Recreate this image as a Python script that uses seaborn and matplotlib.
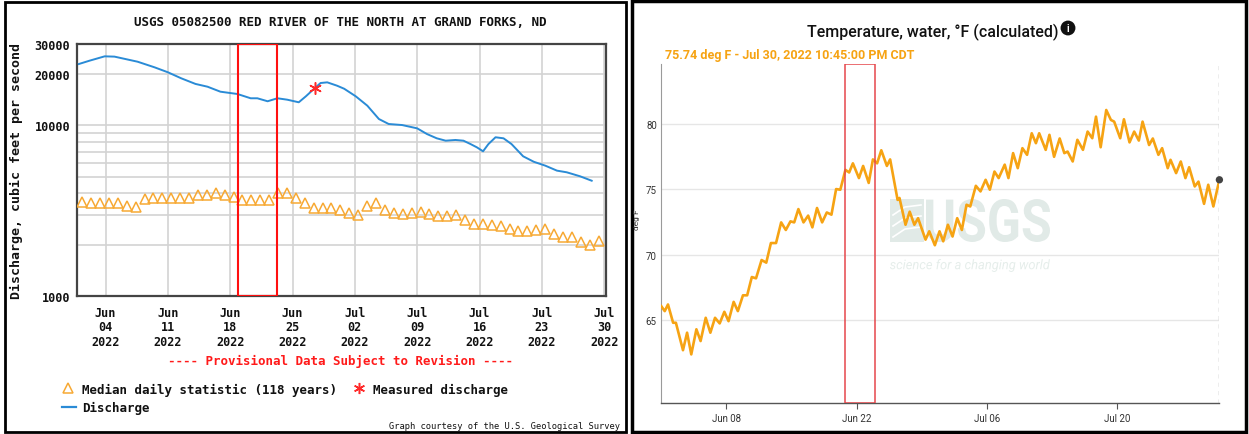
import numpy as np
import pandas as pd
import matplotlib
matplotlib.use("Agg")
import matplotlib.pyplot as plt
from matplotlib.patches import Rectangle, PathPatch
from matplotlib.lines import Line2D
from matplotlib.textpath import TextPath
from matplotlib.font_manager import FontProperties
from matplotlib.transforms import Affine2D
from matplotlib.ticker import NullLocator, FixedLocator, FixedFormatter
import seaborn as sns

# ---------------- data ----------------
# Discharge (cfs), days since 2022-06-01 00:00
q_day = [0.0, 1.2, 2.9, 4.0, 6.6, 8.5, 10.0, 11.5, 13.1, 14.45, 15.9, 17.8, 19.3, 20.05,
         21.2, 22.3, 23.4, 24.7, 25.5, 26.5, 27.15, 27.9, 29.0, 29.8, 31.1, 32.4,
         33.7, 34.8, 36.3, 38.0, 39.1, 40.2, 41.2, 42.3, 43.2, 44.0, 44.7, 45.4, 46.0,
         46.8, 47.7, 48.6, 49.9, 51.1, 52.4, 53.7, 54.8, 56.3, 57.6]
q_cfs = [22900, 23950, 25400, 25300, 23620, 21900, 20480, 18880, 17500, 16860, 15760,
         15280, 14420, 14420, 13850, 14420, 14150, 13660, 14810, 16540, 17720, 17880,
         17090, 16400, 14810, 13050, 10900, 10190, 10050, 9610, 8900, 8400, 8135,
         8215, 8135, 7770, 7440, 7050, 7770, 8520, 8400, 7770, 6590, 6120, 5805, 5430,
         5310, 5030, 4740]

# Median daily statistic (118 years), Jun 01 .. Jul 29
median_cfs = [3570, 3490, 3490, 3490, 3490, 3380, 3310, 3700, 3740, 3750,
              3750, 3750, 3750, 3910, 3910, 4000, 3910, 3820, 3670, 3670,
              3670, 3670, 4000, 4000, 3740, 3510, 3280, 3280, 3280, 3190,
              3050, 2985, 3355, 3510, 3190, 3065, 3025, 3065, 3095, 3025,
              2955, 2955, 2985, 2800, 2640, 2640, 2610, 2583, 2470, 2415,
              2415, 2437, 2470, 2310, 2210, 2210, 2064, 2000, 2110]

meas_day = [26.5]
meas_cfs = [16540]

q_ticks = ["2022-06-04", "2022-06-11", "2022-06-18", "2022-06-25", "2022-07-02",
           "2022-07-09", "2022-07-16", "2022-07-23", "2022-07-30"]

# Water temperature (deg F), days since 2022-06-01 00:00
temp_day = [0.03, 0.4, 0.75, 1.3, 1.6, 2.36, 2.8, 3.25, 3.8, 4.25, 4.8, 5.3, 5.8, 6.3, 6.8,
            7.25, 7.8, 8.25, 8.8, 9.25, 9.75, 10.2, 10.8, 11.3, 11.8, 12.35, 12.9, 13.4,
            13.9, 14.3, 14.75, 15.3, 15.8, 16.25, 16.75, 17.3, 17.8, 18.3, 18.8, 19.25,
            19.8, 20.2, 20.6, 21.25, 21.7, 22.3, 22.75, 23.2, 23.65, 24.25, 24.6, 25.4,
            25.6, 26.25, 26.7, 27.2, 27.6, 28.4, 28.8, 29.4, 29.9, 30.3, 30.8, 31.3,
            31.8, 32.3, 32.8, 33.2, 33.8, 34.3, 34.85, 35.3, 35.8, 36.25, 36.9, 37.3,
            37.8, 38.3, 38.8, 39.3, 39.8, 40.25, 40.6, 41.3, 41.7, 42.2, 42.8, 43.3,
            43.65, 44.2, 44.7, 45.3, 45.8, 46.3, 46.7, 47.2, 47.8, 48.3, 48.65, 49.3,
            49.7, 50.3, 50.8, 51.3, 51.7, 52.4, 52.8, 53.4, 53.8, 54.4, 54.7, 55.3,
            55.8, 56.3, 56.7, 57.3, 57.7, 58.3, 58.75, 59.3, 59.948]
temp_f = [66.07, 65.69, 66.2, 64.8, 64.8, 62.7, 64.04, 62.38, 64.3, 63.4, 65.18, 64.04,
          65.18, 64.75, 65.64, 64.92, 66.4, 65.69, 66.9, 66.9, 68.3, 68.2, 69.6, 69.4,
          70.9, 70.9, 72.48, 71.9, 72.56, 72.48, 73.5, 72.48, 73.0, 72.1, 73.58, 72.48,
          73.24, 73.07, 75.03, 74.98, 76.5, 76.3, 77.0, 75.87, 76.8, 75.5, 77.3, 77.0,
          78.0, 76.8, 77.3, 74.2, 74.35, 72.3, 73.3, 72.3, 72.8, 71.16, 71.8, 70.73,
          71.8, 71.03, 72.3, 71.4, 72.8, 71.9, 73.83, 73.7, 75.28, 74.85, 75.74, 74.98,
          76.37, 75.87, 76.9, 75.87, 77.78, 76.63, 78.16, 77.65, 79.3, 78.54, 79.3,
          78.03, 79.18, 77.5, 78.9, 77.78, 77.9, 77.14, 78.8, 78.03, 79.43, 78.92,
          80.57, 78.23, 81.08, 80.32, 80.19, 78.92, 80.37, 78.6, 79.43, 78.74, 80.19,
          78.4, 78.9, 77.65, 78.16, 76.63, 77.27, 76.25, 77.14, 75.87, 76.7, 75.23,
          75.6, 73.9, 75.36, 73.7, 75.74]

t_ticks = ["2022-06-08", "2022-06-22", "2022-07-06", "2022-07-20"]

# ---------------- figure ----------------
W, H = 1249, 435
DPI = 100
fig = plt.figure(figsize=(W / DPI, H / DPI), dpi=DPI)
fig.patch.set_facecolor("white")


def fx(px):
    return px / W


def fy(py):
    return 1 - py / H


base = pd.Timestamp("2022-06-01")
MONO = "DejaVu Sans Mono"

# ============ Left panel: discharge ============
ax1 = fig.add_axes([fx(77), fy(297), fx(606) - fx(77), fy(45) - fy(297)])
ax1.set_facecolor("white")

df_q = pd.DataFrame({"time": base + pd.to_timedelta(q_day, unit="D"), "cfs": q_cfs})
df_med = pd.DataFrame({"time": base + pd.Timedelta(hours=9) + pd.to_timedelta(np.arange(len(median_cfs)), unit="D"),
                       "cfs": median_cfs})
df_meas = pd.DataFrame({"time": base + pd.to_timedelta(meas_day, unit="D"), "cfs": meas_cfs})

sns.lineplot(data=df_med, x="time", y="cfs", ax=ax1, linestyle="none", marker="^",
             markersize=7.5, markerfacecolor="none", markeredgecolor="#f7a934",
             markeredgewidth=1.1, zorder=3)
sns.lineplot(data=df_q, x="time", y="cfs", ax=ax1, color="#2a8bd6", linewidth=1.4, zorder=4)
sns.scatterplot(data=df_meas, x="time", y="cfs", ax=ax1, marker=(6, 2, 0), s=70,
                color="#ff2a2a", linewidth=1.1, zorder=5)

ax1.set_yscale("log")
ax1.set_ylim(1000, 30000)
ax1.set_xlim(base - pd.Timedelta(hours=5), base + pd.Timedelta(days=59, hours=5))
yt = [1000, 2000, 3000, 4000, 5000, 6000, 7000, 8000, 9000, 10000, 20000, 30000]
ylab = ["1000"] + [""] * 8 + ["10000", "20000", "30000"]
ax1.yaxis.set_major_locator(FixedLocator(yt))
ax1.yaxis.set_major_formatter(FixedFormatter(ylab))
ax1.yaxis.set_minor_locator(NullLocator())
xt = pd.to_datetime(q_ticks)
ax1.set_xticks(xt)
ax1.set_xticklabels([d.strftime("%b\n%d\n%Y") for d in xt])
ax1.grid(True, color="#d3d3d3", linewidth=1.2, zorder=0)
ax1.set_axisbelow(True)
ax1.tick_params(axis="x", length=0, pad=7)
ax1.tick_params(axis="y", length=0, pad=5)
for lbl in ax1.get_xticklabels() + ax1.get_yticklabels():
    lbl.set_fontfamily(MONO)
    lbl.set_fontweight("bold")
    lbl.set_fontsize(8.5)
    lbl.set_color("#111111")
for lbl in ax1.get_xticklabels():
    lbl.set_linespacing(1.15)
ax1.set_xlabel("")
ax1.set_ylabel("")
for sp in ax1.spines.values():
    sp.set_color("#444444")
    sp.set_linewidth(1.6)

# red annotation box
ax1.axvspan(base + pd.Timedelta(days=17.85), base + pd.Timedelta(days=22.2),
            facecolor="none", edgecolor="#ff1010", linewidth=1.5, zorder=6)

fig.text(fx(340), fy(22), "USGS 05082500 RED RIVER OF THE NORTH AT GRAND FORKS, ND",
         ha="center", va="center", family=MONO, fontweight="bold", fontsize=9, color="#111111")
fig.text(fx(16), fy(171), "Discharge, cubic feet per second", rotation=90,
         ha="center", va="center", family=MONO, fontweight="bold", fontsize=9.5, color="#111111")
fig.text(fx(340), fy(361), "---- Provisional Data Subject to Revision ----",
         ha="center", va="center", family=MONO, fontweight="bold", fontsize=9, color="#ff1a1a")

# legend
fig.add_artist(Line2D([fx(68)], [fy(389)], marker="^", markersize=7.5, markerfacecolor="none",
                      markeredgecolor="#f7a934", markeredgewidth=1.1, transform=fig.transFigure))
fig.text(fx(82), fy(390), "Median daily statistic (118 years)", ha="left", va="center",
         family=MONO, fontweight="bold", fontsize=9, color="#111111")
fig.add_artist(Line2D([fx(358.6)], [fy(389)], marker=(6, 2, 0), markersize=8,
                      color="#ff2a2a", markeredgewidth=1.1, transform=fig.transFigure))
fig.text(fx(373), fy(390), "Measured discharge", ha="left", va="center",
         family=MONO, fontweight="bold", fontsize=9, color="#111111")
fig.add_artist(Line2D([fx(62), fx(76)], [fy(408), fy(408)], color="#2a8bd6", linewidth=1.6,
                      transform=fig.transFigure))
fig.text(fx(82), fy(408), "Discharge", ha="left", va="center",
         family=MONO, fontweight="bold", fontsize=9, color="#111111")
fig.text(fx(620), fy(427), "Graph courtesy of the U.S. Geological Survey", ha="right", va="center",
         family=MONO, fontsize=6.3, color="#111111")

fig.add_artist(Rectangle((fx(5), fy(433)), fx(626) - fx(5), fy(3) - fy(433), transform=fig.transFigure,
                         fill=False, edgecolor="black", linewidth=2))

# ============ Right panel: temperature ============
SANS = ["Roboto", "DejaVu Sans"]
ax2 = fig.add_axes([fx(661), fy(404), fx(1219.4) - fx(661), fy(65) - fy(404)])
ax2.set_facecolor("white")

# watermark (drawn inside ax2, beneath the data)
wm = "#e1eae7"


def squeezed_text(s, x0, y0, x1, y1, weight, style, color, z):
    tp = TextPath((0, 0), s, size=1, prop=FontProperties(family="Roboto", weight=weight, style=style))
    ext = tp.get_extents()
    sx = (x1 - x0) / ext.width
    sy = (y1 - y0) / ext.height
    tr = Affine2D().translate(-ext.x0, -ext.y0).scale(sx, sy).translate(x0, H - y1)
    ax2.add_patch(PathPatch(tr.transform_path(tp), facecolor=color, edgecolor="none",
                            transform=matplotlib.transforms.IdentityTransform(), zorder=z,
                            clip_on=False))


ax2.add_patch(Rectangle((fx(890), fy(243)), fx(924) - fx(890), fy(200) - fy(243),
                        transform=fig.transFigure, facecolor=wm, edgecolor="none", zorder=0.5))
for k in range(3):
    yy = 208 + k * 11
    ax2.add_line(Line2D([fx(893), fx(905), fx(921)], [fy(yy + 8), fy(yy), fy(yy - 2)],
                        transform=fig.transFigure, color="white", linewidth=1.2, zorder=0.6))
squeezed_text("USGS", 926, 200, 1050, 243, "bold", "normal", wm, 0.5)
squeezed_text("science for a changing world", 890, 260, 1050, 273, "normal", "italic", "#e6eeeb", 0.5)

df_t = pd.DataFrame({"time": base + pd.to_timedelta(temp_day, unit="D"), "degF": temp_f})
sns.lineplot(data=df_t, x="time", y="degF", ax=ax2, color="#f6a313", linewidth=1.9, zorder=3)
last = df_t.iloc[[-1]]
sns.scatterplot(data=last, x="time", y="degF", ax=ax2, color="#444444", s=28,
                edgecolor="none", zorder=5, clip_on=False)
ax2.axvline(last["time"].iloc[0], color="#a8a8a8", linestyle=(0, (3, 3)), linewidth=1, zorder=2)

ax2.set_xlim(base, base + pd.Timedelta(days=temp_day[-1]))
ax2.set_ylim(58.66, 84.6)
ax2.set_yticks([65, 70, 75, 80])
ax2.set_yticklabels(["65", "70", "75", "80"])
tt = pd.to_datetime(t_ticks)
ax2.set_xticks(tt)
ax2.set_xticklabels([d.strftime("%b %d") for d in tt])
ax2.yaxis.grid(True, color="#e6e6e6", linewidth=1)
ax2.xaxis.grid(False)
ax2.set_axisbelow(True)
ax2.tick_params(axis="y", length=0, pad=3, labelsize=7, labelcolor="#333333")
ax2.tick_params(axis="x", length=4, width=0.8, color="#555555", pad=3, labelsize=7,
                labelcolor="#333333")
for lbl in ax2.get_xticklabels() + ax2.get_yticklabels():
    lbl.set_fontfamily(SANS)
ax2.set_xlabel("")
ax2.set_ylabel("")
ax2.spines["top"].set_visible(False)
ax2.spines["right"].set_visible(False)
ax2.spines["left"].set_color("#9a9a9a")
ax2.spines["left"].set_linewidth(0.8)
ax2.spines["bottom"].set_color("#555555")
ax2.spines["bottom"].set_linewidth(1)

ax2.axvspan(base + pd.Timedelta(days=19.8), base + pd.Timedelta(days=23.0),
            facecolor="none", edgecolor="#e5474b", linewidth=1.1, zorder=6)

fig.text(fx(637), fy(220), "deg F", rotation=90, ha="center", va="center",
         family=SANS, fontsize=6, color="#333333")
fig.text(fx(933), fy(32), "Temperature, water, °F (calculated)", ha="center", va="center",
         family=SANS, fontsize=11.5, fontweight="medium", color="#111111")
fig.text(fx(1068), fy(29), "i", ha="center", va="center", family=SANS, fontweight="bold",
         fontsize=7, color="white",
         bbox=dict(boxstyle="circle,pad=0.25", facecolor="#111111", edgecolor="none"))
fig.text(fx(665), fy(55), "75.74 deg F - Jul 30, 2022 10:45:00 PM CDT", ha="left", va="center",
         family=SANS, fontweight="bold", fontsize=9, color="#f6a313")

fig.add_artist(Rectangle((fx(632), fy(433)), fx(1246) - fx(632), fy(2) - fy(433),
                         transform=fig.transFigure, fill=False, edgecolor="black", linewidth=2.5))

fig.savefig("out.png", dpi=DPI, facecolor="white")
